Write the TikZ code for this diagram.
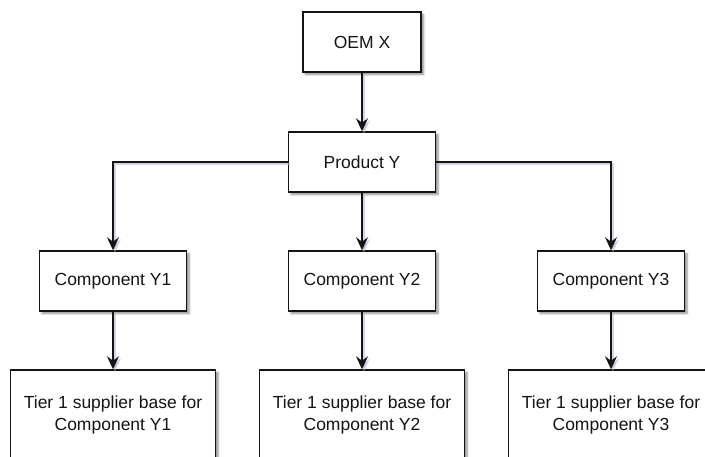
\documentclass[tikz,border=0pt]{standalone}
\usepackage{fontspec}
\setmainfont{Liberation Sans}
\usetikzlibrary{arrows.meta,shadows.blur}
\definecolor{shadowc}{RGB}{185,185,215}
\definecolor{ink}{RGB}{20,20,20}
\tikzset{
  box/.style={draw=ink, line width=1.5pt, fill=white, inner sep=0pt,
    minimum width=147pt, minimum height=60pt, align=center,
    font=\fontsize{17.5}{21.5}\selectfont, text=ink,
    blur shadow={shadow xshift=2.5pt, shadow yshift=-2.5pt, shadow blur radius=2pt,
      shadow blur steps=6, shadow opacity=45, shadow blur extra rounding=0pt}},
  tierbox/.style={box, minimum width=205pt, minimum height=90pt},
  link/.style={draw=ink, line width=1.7pt,
    -{Stealth[length=13pt,width=12pt,inset=4.5pt]}},
  linkshade/.style={draw=shadowc, line width=2pt, opacity=0.6,
    -{Stealth[length=13pt,width=12pt,inset=4.5pt]}}
}
\begin{document}
\begin{tikzpicture}[x=1pt,y=-1pt]
  \useasboundingbox (0,0) rectangle (705,457);
  \clip (0,0) rectangle (705,457);
  % top of the hierarchy
  \node[box, minimum width=118pt] (oem) at (362,42) {OEM X};
  \node[box] (prod) at (362,162) {Product Y};
  % components
  \node[box] (c1) at (113,281) {Component Y1};
  \node[box] (c2) at (362,281) {Component Y2};
  \node[box] (c3) at (611,281) {Component Y3};
  % supplier bases
  \node[tierbox] (t1) at (113,415) {Tier 1 supplier base for\\Component Y1};
  \node[tierbox] (t2) at (362,415) {Tier 1 supplier base for\\Component Y2};
  \node[tierbox] (t3) at (611,415) {Tier 1 supplier base for\\Component Y3};
  % soft shadows under the connectors
  \begin{scope}[transform canvas={shift={(2pt,-2pt)}}]
    \path[linkshade] (oem.south) -- (prod.north);
    \path[linkshade] (prod.west) -| (c1.north);
    \path[linkshade] (prod.south) -- (c2.north);
    \path[linkshade] (prod.east) -| (c3.north);
    \path[linkshade] (c1.south) -- (t1.north);
    \path[linkshade] (c2.south) -- (t2.north);
    \path[linkshade] (c3.south) -- (t3.north);
  \end{scope}
  % connectors
  \path[link] (oem.south) -- (prod.north);
  \path[link] (prod.west) -| (c1.north);
  \path[link] (prod.south) -- (c2.north);
  \path[link] (prod.east) -| (c3.north);
  \path[link] (c1.south) -- (t1.north);
  \path[link] (c2.south) -- (t2.north);
  \path[link] (c3.south) -- (t3.north);
\end{tikzpicture}
\end{document}
